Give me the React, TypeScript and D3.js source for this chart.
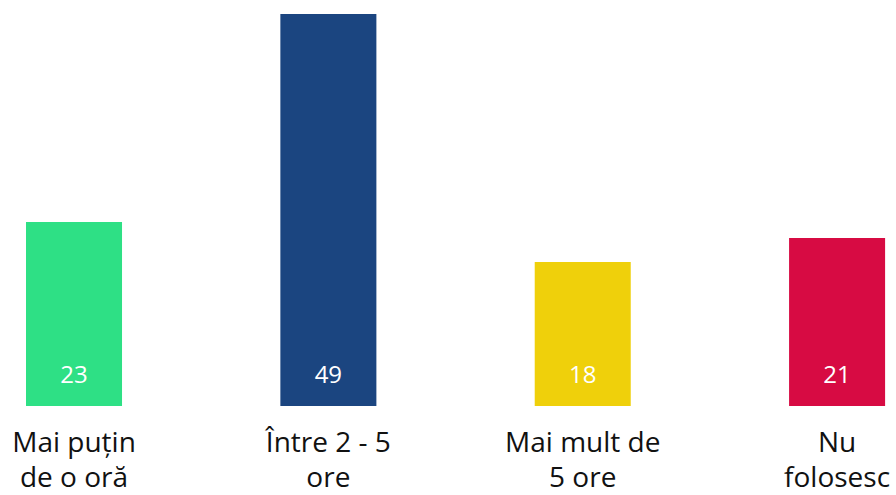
import React from "react";
import * as d3 from "d3";

const categories: string[][] = [
  ["Mai puțin", "de o oră"],
  ["Între 2 - 5", "ore"],
  ["Mai mult de", "5 ore"],
  ["Nu", "folosesc"],
];
const values: number[] = [23, 49, 18, 21];
const colors: string[] = ["#2ee085", "#1b4580", "#efd00b", "#d70b43"];

const W = 896;
const H = 495;

export default function App() {
  const x = d3
    .scaleBand<number>()
    .domain(values.map((_, i) => i))
    .range([-53.1, 964.2])
    .paddingInner(0.6225)
    .paddingOuter(0.311);
  const y = d3.scaleLinear().domain([0, 49]).range([406, 14]);
  const font = "'Open Sans', 'Noto Sans', sans-serif";
  return (
    <svg
      width={W}
      height={H}
      style={{ position: "absolute", left: 0, top: 0, background: "#fff" }}
    >
      {values.map((v, i) => {
        const bx = x(i)!;
        const bw = x.bandwidth();
        const cx = bx + bw / 2;
        return (
          <g key={i}>
            <rect x={bx} y={y(v)} width={bw} height={y(0) - y(v)} fill={colors[i]} />
            <text
              x={cx}
              y={y(0) - 23}
              textAnchor="middle"
              fill="#fff"
              fontFamily={font}
              fontSize={24}
            >
              {v}
            </text>
            {categories[i].map((line, j) => (
              <text
                key={j}
                x={cx}
                y={452 + j * 35}
                textAnchor="middle"
                fill="#111"
                fontFamily={font}
                fontSize={28}
              >
                {line}
              </text>
            ))}
          </g>
        );
      })}
    </svg>
  );
}
